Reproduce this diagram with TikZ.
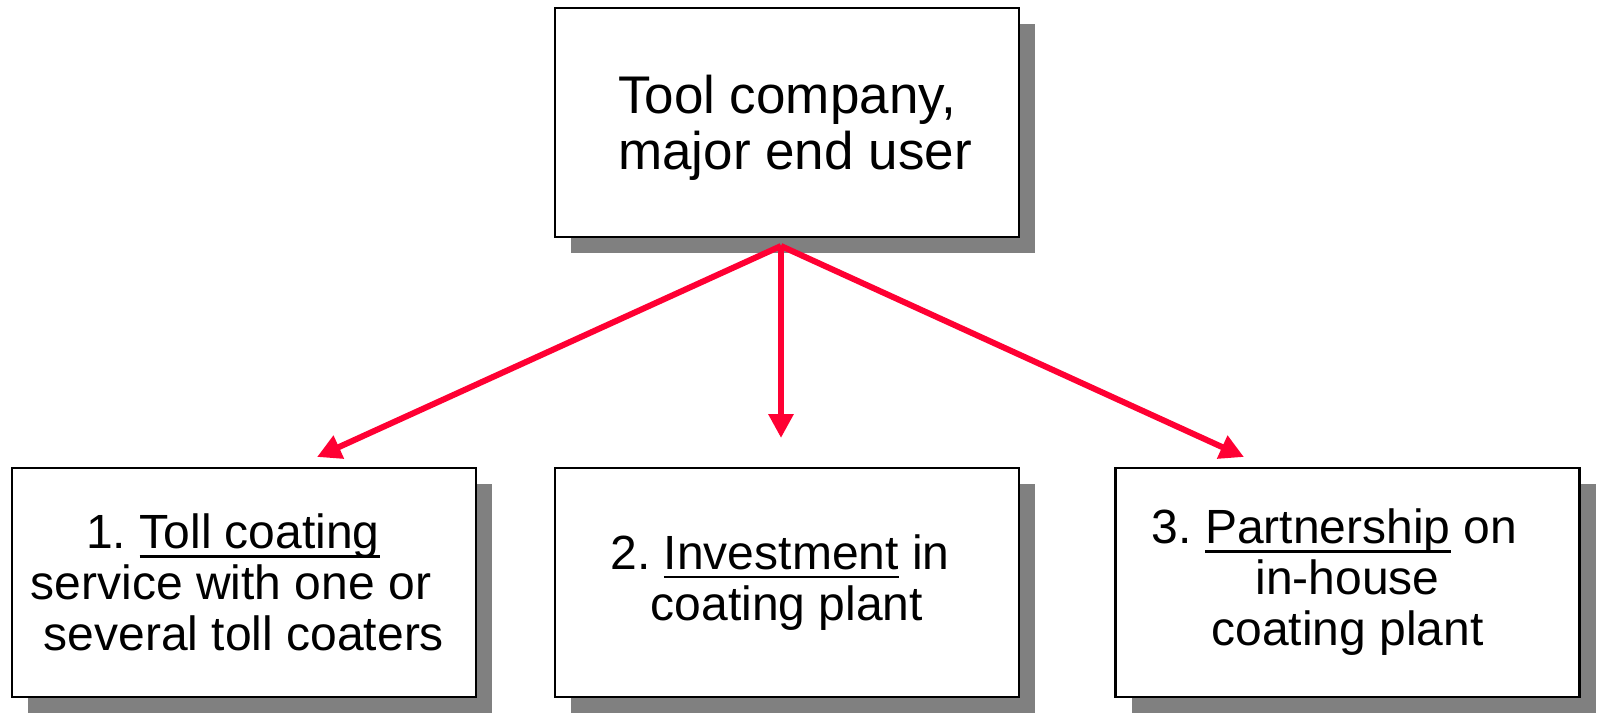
\documentclass[tikz,border=0pt]{standalone}
\usepackage{fontspec}
\setmainfont{Liberation Sans}
\usetikzlibrary{arrows.meta,shadows}
\definecolor{arrowred}{RGB}{255,0,51}
\definecolor{shadowgray}{RGB}{128,128,128}
\frenchspacing
\newsavebox{\ulbox}
\newcommand{\ulword}[1]{\sbox{\ulbox}{#1}\rlap{\rule[-9pt]{\wd\ulbox}{2.8pt}}\usebox{\ulbox}}
\newcommand{\tailpad}[1]{\rule{#1}{0pt}}
\tikzset{
  choice/.style={draw=black, line width=2.6pt, fill=white, minimum width=464pt,
    minimum height=229pt, inner sep=0pt, align=center,
    drop shadow={shadow xshift=16pt, shadow yshift=-16pt, fill=shadowgray, opacity=1}},
  route/.style={draw=arrowred, line width=6pt, -{Triangle[width=24pt,length=24pt]}}
}
\begin{document}
\begin{tikzpicture}[x=1pt,y=-1pt]
\useasboundingbox (0,0) rectangle (1600,712);
% the end user on top
\node [choice, font=\fontsize{53}{56}\selectfont] (user) at (787,122.5) {\rule{0pt}{48pt}Tool company,\\\tailpad{16pt}major end user};
% the three routes
\node [choice, font=\fontsize{48}{51}\selectfont] (toll) at (244,582.5) {1. \ulword{Toll coating}\tailpad{22pt}\\service with one or\tailpad{26pt}\\several toll coaters};
\node [choice, font=\fontsize{48}{51}\selectfont] (invest) at (787,582.5) {2. \ulword{Investment} in\tailpad{14pt}\\coating plant};
\node [choice, font=\fontsize{48}{51}\selectfont] (partner) at (1347.5,582.5) {3. \ulword{Partnership} on\tailpad{26pt}\\in-house\\coating plant};
\coordinate (fork) at (781,246);
\coordinate (tolltip) at (317,457);
\coordinate (investtip) at (781,438);
\coordinate (partnertip) at (1244,457);
\draw [route] (fork) -- (tolltip);
\draw [route] (fork) -- (investtip);
\draw [route] (fork) -- (partnertip);
\end{tikzpicture}
\end{document}
